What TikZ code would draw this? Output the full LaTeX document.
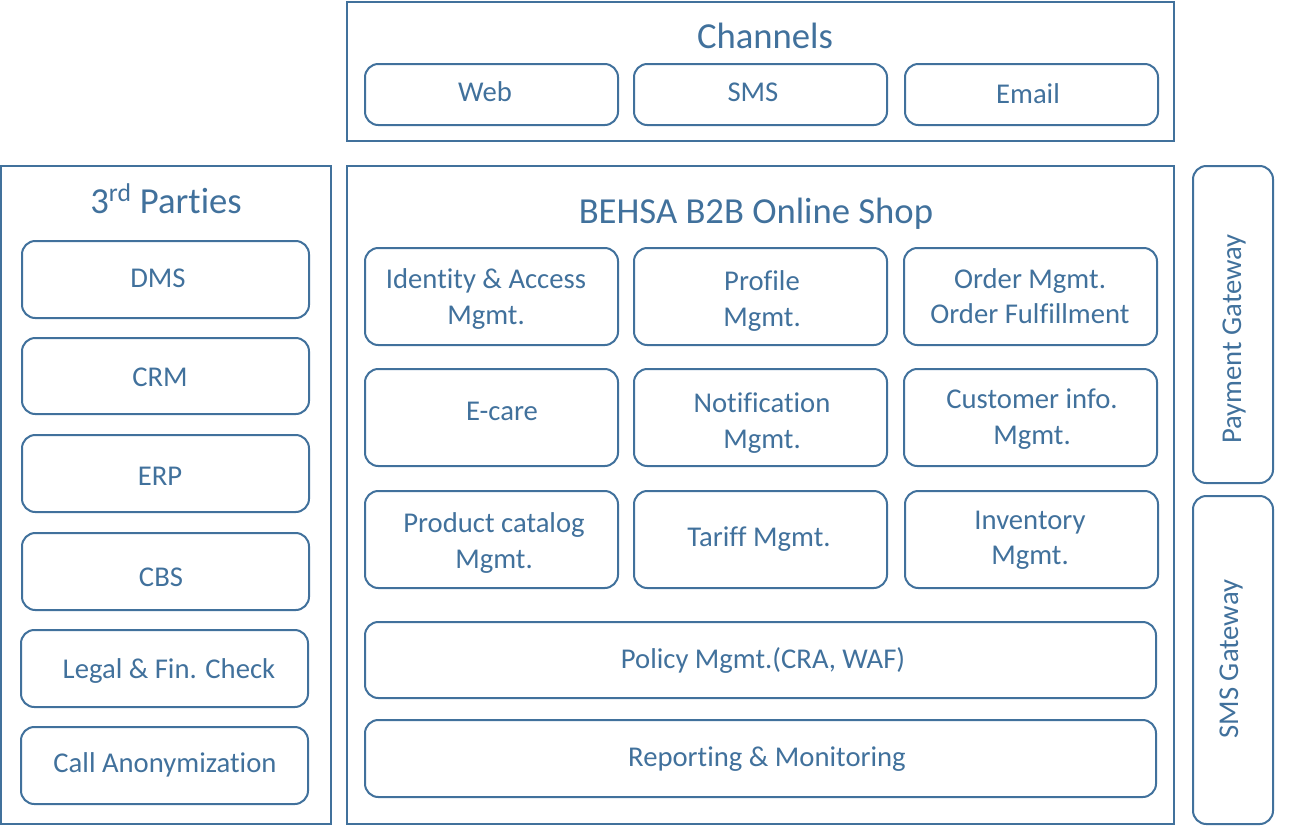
\documentclass[tikz,border=0pt]{standalone}
\usepackage{fontspec}
\setmainfont[RawFeature={-liga;-clig;-calt;-dlig;-rlig}]{Carlito}
\definecolor{blu}{HTML}{41719C}
\begin{document}
\begin{tikzpicture}[x=0.75pt,y=-0.75pt,
  outer/.style={draw=blu,line width=1.5pt,rectangle,inner sep=0pt},
  rbox/.style={draw=blu,line width=1.5pt,rectangle,rounded corners=10pt,inner sep=0pt},
  lbl/.style={text=blu,font=\fontsize{21.5}{26.5}\selectfont,align=center,inner sep=0pt},
  ttl/.style={text=blu,font=\fontsize{27.5}{33}\selectfont,inner sep=0pt}]
\useasboundingbox (0,0) rectangle (1307,826);
% helper: box from corners
\newcommand{\bx}[6]{\node[#1,minimum width=(#4-#2)*0.75pt,minimum height=(#5-#3)*0.75pt] (#6) at ({(#2+#4)/2},{(#3+#5)/2}) {};}
% Channels
\bx{outer}{347}{2}{1174}{141}{chan}
\node[ttl] (chant) at (765,36) {Channels};
\bx{rbox}{365}{64}{618}{125}{web}
\bx{rbox}{634}{64}{887}{125}{sms}
\bx{rbox}{905}{64}{1158}{125}{email}
\node[lbl] (webt) at (485,92) {Web};
\node[lbl] (smst) at (753,92) {SMS};
\node[lbl] (emailt) at (1028,94) {Email};
% 3rd parties
\bx{outer}{1}{166}{331}{824}{third}
\node[ttl] (thirdt) at (166,199) {3\textsuperscript{rd} Parties};
\bx{rbox}{22}{241}{309}{318}{dms}
\bx{rbox}{22}{338}{309}{414}{crm}
\bx{rbox}{22}{435}{309}{512}{erp}
\bx{rbox}{22}{533}{309}{610}{cbs}
\bx{rbox}{21}{630}{308}{707}{legal}
\bx{rbox}{21}{727}{308}{804}{call}
\node[lbl] (dmst) at (158,278) {DMS};
\node[lbl] (crmt) at (160,377) {CRM};
\node[lbl] (erpt) at (160,476) {ERP};
\node[lbl] (cbst) at (161,577) {CBS};
\node[lbl] (legalt) at (169,671) {Legal \& Fin. Check};
\node[lbl] (callt) at (165,765) {Call Anonymization};
% BEHSA
\bx{outer}{347}{166}{1174}{824}{shop}
\node[ttl] (shopt) at (756,214) {BEHSA B2B Online Shop};
\bx{rbox}{365}{248}{618}{345}{iam}
\bx{rbox}{634}{248}{887}{345}{prof}
\bx{rbox}{904}{248}{1157}{345}{order}
\bx{rbox}{365}{369}{618}{466}{ecare}
\bx{rbox}{634}{369}{887}{466}{notif}
\bx{rbox}{904}{369}{1157}{466}{cust}
\bx{rbox}{365}{491}{618}{588}{prod}
\bx{rbox}{634}{491}{887}{588}{tariff}
\bx{rbox}{905}{491}{1158}{588}{inv}
\bx{rbox}{365}{622}{1156}{698}{policy}
\bx{rbox}{365}{720}{1156}{797}{report}
\node[lbl] (iamt) at (486,299) {Identity \& Access\\Mgmt.};
\node[lbl] (proft) at (762,301) {Profile\\Mgmt.};
\node[lbl] (ordert) at (1030,296) {Order Mgmt.\\Order Fulfillment};
\node[lbl] (ecaret) at (502,411) {E-care};
\node[lbl] (notift) at (762,423) {Notification\\Mgmt.};
\node[lbl] (custt) at (1032,419) {Customer info.\\Mgmt.};
\node[lbl] (prodt) at (494,543) {Product catalog\\Mgmt.};
\node[lbl] (tarifft) at (759,539) {Tariff Mgmt.};
\node[lbl] (invt) at (1030,540) {Inventory\\Mgmt.};
\node[lbl] (policyt) at (763,660) {Policy Mgmt.(CRA, WAF)};
\node[lbl] (reportt) at (767,759) {Reporting \& Monitoring};
% gateways
\bx{rbox}{1193}{166}{1273}{483}{pay}
\bx{rbox}{1193}{496}{1273}{824}{smsg}
\node[lbl,rotate=90] (payt) at (1234,339) {Payment Gateway};
\node[lbl,rotate=90] (smsgt) at (1231,659) {SMS Gateway};
\end{tikzpicture}
\end{document}
